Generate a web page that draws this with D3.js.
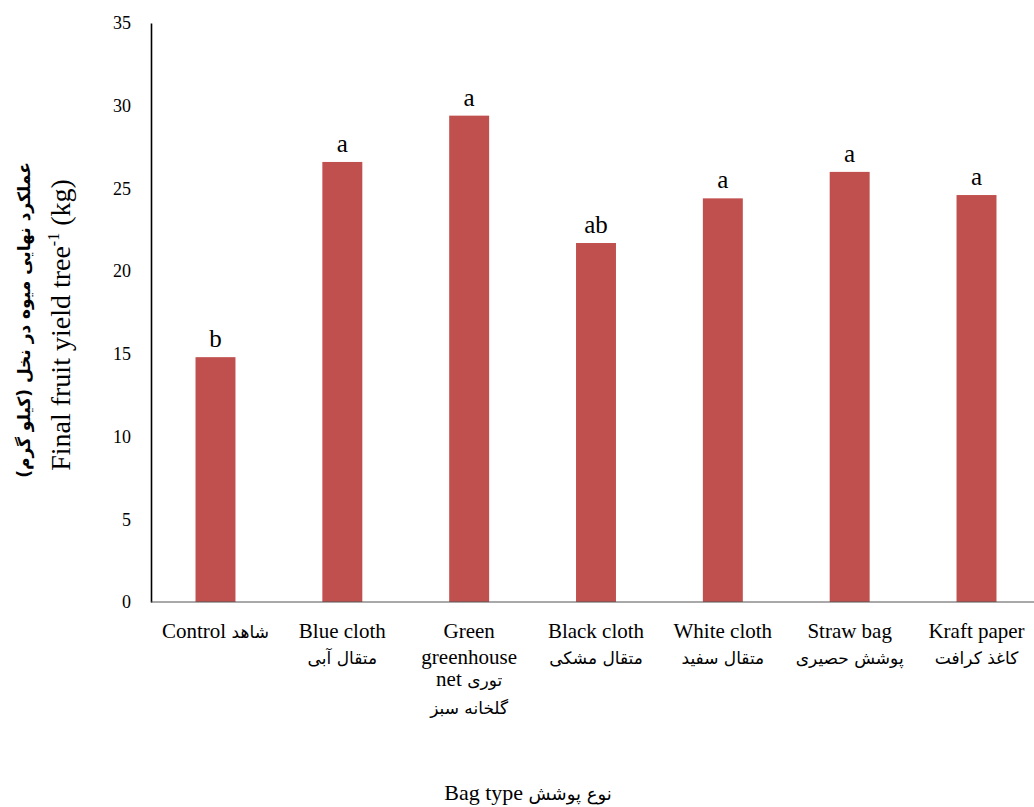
<!DOCTYPE html>
<html>
<head>
<meta charset="utf-8">
<script src="https://cdn.jsdelivr.net/npm/d3@7/dist/d3.min.js"></script>
<style>
  html, body { margin: 0; padding: 0; background: #fff; }
  svg { display: block; }
  text { font-family: "Liberation Serif", "Times New Roman", "DejaVu Serif", serif; fill: #000; }
  .fa { font-family: "DejaVu Sans", "Noto Sans", sans-serif; }
</style>
</head>
<body>
<script>
const categories = ["Control", "Blue cloth", "Green greenhouse net", "Black cloth", "White cloth", "Straw bag", "Kraft paper"];
const labelLines = [
  [["Control", "شاهد"]],
  [["Blue  cloth"], ["متقال آبی"]],
  [["Green"], ["greenhouse"], ["net", "توری"], ["گلخانه  سبز"]],
  [["Black cloth"], ["متقال مشکی"]],
  [["White cloth"], ["متقال سفید"]],
  [["Straw bag"], ["پوشش حصیری"]],
  [["Kraft paper"], ["کاغذ کرافت"]]
];
const values = [14.8, 26.6, 29.4, 21.7, 24.4, 26.0, 24.6];
const letters = ["b", "a", "a", "ab", "a", "a", "a"];
const yTicks = [0, 5, 10, 15, 20, 25, 30, 35];

const W = 1034, H = 807;
const svg = d3.select("body").append("svg").attr("width", W).attr("height", H);

const x = d3.scaleBand().domain(categories).range([151.5, 1040.5]).paddingInner(0.685).paddingOuter(0.347);
const y = d3.scaleLinear().domain([0, 35]).range([602, 23]);

// bars
svg.selectAll("rect.bar").data(values).join("rect")
  .attr("class", "bar")
  .attr("x", (d, i) => x(categories[i]))
  .attr("width", x.bandwidth())
  .attr("y", d => y(d))
  .attr("height", d => y(0) - y(d))
  .attr("fill", "#C0504D");

// letters
svg.selectAll("text.sig").data(values).join("text")
  .attr("class", "sig")
  .attr("x", (d, i) => x(categories[i]) + x.bandwidth() / 2)
  .attr("y", d => y(d) - 10)
  .attr("text-anchor", "middle")
  .attr("font-size", 25)
  .text((d, i) => letters[i]);

// y axis
const yAxis = d3.axisLeft(y).tickValues(yTicks).tickSize(0).tickPadding(20);
const gy = svg.append("g").attr("transform", "translate(151,0)").call(yAxis);
gy.attr("font-family", null);
gy.select(".domain").attr("stroke", "#000").attr("stroke-width", 1.6);
gy.selectAll(".tick text").attr("font-size", 18).attr("fill", "#000");

// x axis line
svg.append("line").attr("x1", 151).attr("x2", W).attr("y1", y(0)).attr("y2", y(0))
  .attr("stroke", "#555").attr("stroke-width", 1.2);

// x labels
const lineY = [632, 658, 680, 708];
labelLines.forEach((lines, i) => {
  const cx = x(categories[i]) + x.bandwidth() / 2;
  lines.forEach((parts, j) => {
    const t = svg.append("text").attr("x", cx).attr("y", lineY[j] + 6)
      .attr("text-anchor", "middle").attr("font-size", 21);
    parts.forEach((p, k) => {
      const isFa = /[\u0600-\u06FF]/.test(p);
      t.append("tspan").attr("class", isFa ? "fa" : null)
        .attr("font-size", isFa ? 17 : 21)
        .text((k > 0 ? " " : "") + p);
    });
  });
});

// x axis title
const xt = svg.append("text").attr("x", 528).attr("y", 800).attr("text-anchor", "middle").attr("font-size", 22);
xt.append("tspan").text("Bag type ");
xt.append("tspan").attr("class", "fa").attr("font-size", 18).text("نوع پوشش");

// y axis titles
svg.append("text").attr("class", "fa")
  .attr("transform", "translate(30,320) rotate(-90)")
  .attr("text-anchor", "middle").attr("direction", "rtl").attr("font-size", 17).attr("font-weight", "bold")
  .text("عملکرد نهایی میوه در نخل (کیلو گرم)");
const yt = svg.append("text")
  .attr("transform", "translate(70,325) rotate(-90)")
  .attr("text-anchor", "middle").attr("font-size", 28);
yt.append("tspan").text("Final fruit yield tree");
yt.append("tspan").attr("font-size", 16).attr("dy", -11).text("-1");
yt.append("tspan").attr("dy", 11).text(" (kg)");
</script>
</body>
</html>
